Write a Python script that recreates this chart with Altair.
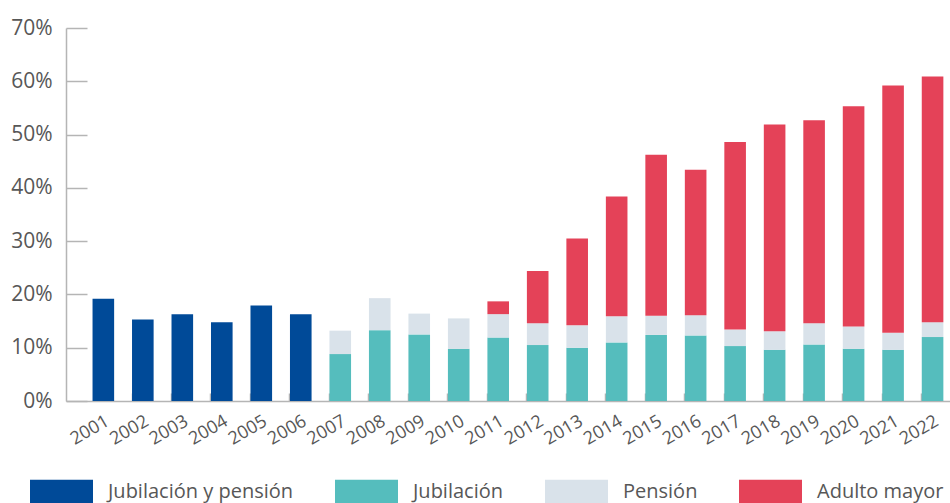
import altair as alt
import pandas as pd

years = list(range(2001, 2023))
series = ["Jubilación y pensión", "Jubilación", "Pensión", "Adulto mayor"]
colors = ["#004a98", "#55bdbd", "#d9e2ea", "#e44258"]

jub_pen = [19.2, 15.3, 16.3, 14.8, 17.9, 16.3] + [0] * 16
jubilacion = [0] * 6 + [8.8, 13.3, 12.5, 9.8, 11.9, 10.5, 10.0, 11.0,
                        12.4, 12.3, 10.3, 9.6, 10.6, 9.8, 9.6, 12.0]
pension = [0] * 6 + [4.4, 6.0, 3.9, 5.7, 4.4, 4.1, 4.2, 4.9,
                     3.6, 3.8, 3.1, 3.5, 4.0, 4.2, 3.2, 2.8]
adulto = [0] * 10 + [2.4, 9.8, 16.3, 22.5, 30.2, 27.3, 35.2, 38.8,
                     38.1, 41.3, 46.4, 46.1]
y_ticks = [0, 10, 20, 30, 40, 50, 60, 70]

rows = []
for i, yr in enumerate(years):
    for k, (name, vals) in enumerate(zip(series, [jub_pen, jubilacion, pension, adulto])):
        if vals[i] > 0:
            rows.append({"year": yr, "series": name, "value": vals[i], "order": k})
df = pd.DataFrame(rows)

FONT = "Open Sans"
TXT = "#575757"
GRAY = "#b5b5b5"

x_scale = alt.Scale(paddingInner=0.453, paddingOuter=0.42, align=0.8)
y_scale = alt.Scale(domain=[0, 70])

bars = alt.Chart(df).mark_bar().encode(
    x=alt.X("year:O", scale=x_scale, title=None,
            axis=alt.Axis(orient="bottom", ticks=False, labelAngle=330,
                          labelFontSize=18, labelColor=TXT, labelFont=FONT,
                          labelPadding=11, domainColor=GRAY, domainWidth=1.5)),
    y=alt.Y("value:Q", stack="zero", scale=y_scale, title=None,
            axis=alt.Axis(orient="left", values=y_ticks, ticks=False, grid=False,
                          labelExpr="datum.value + '%'", labelFontSize=21,
                          labelColor=TXT, labelFont=FONT, labelPadding=14,
                          domainColor=GRAY, domainWidth=1.5)),
    color=alt.Color("series:N", scale=alt.Scale(domain=series, range=colors),
                    legend=alt.Legend(orient="none", legendX=-36, legendY=432,
                                      direction="horizontal", title=None,
                                      symbolType="M-1,-0.38H1V0.38H-1Z",
                                      symbolSize=3969, symbolStrokeWidth=0,
                                      symbolOpacity=1,
                                      labelFontSize=20, labelColor=TXT,
                                      labelFont=FONT, labelOffset=15,
                                      labelLimit=300, columnPadding=41)),
    order=alt.Order("order:Q"),
)

ticks = alt.Chart(df).mark_bar(opacity=0).encode(
    x=alt.X("year:O", scale=x_scale, title=None,
            axis=alt.Axis(orient="bottom", offset=-8, tickSize=8, bandPosition=0,
                          values=years[1:], labels=False, domain=False,
                          tickColor=GRAY, tickWidth=1.5)),
    y=alt.Y("value:Q", stack="zero", scale=y_scale, title=None,
            axis=alt.Axis(orient="left", offset=-21, tickSize=21, values=y_ticks,
                          labels=False, domain=False, grid=False,
                          tickColor=GRAY, tickWidth=1.5)),
)

chart = alt.layer(bars, ticks).resolve_axis(
    x="independent", y="independent"
).properties(
    width=884, height=373, autosize="none",
    padding={"left": 66, "top": 28, "right": 0, "bottom": 102},
).configure_view(stroke=None)

chart.save("out.html", embed_options={"renderer": "svg", "actions": False})
